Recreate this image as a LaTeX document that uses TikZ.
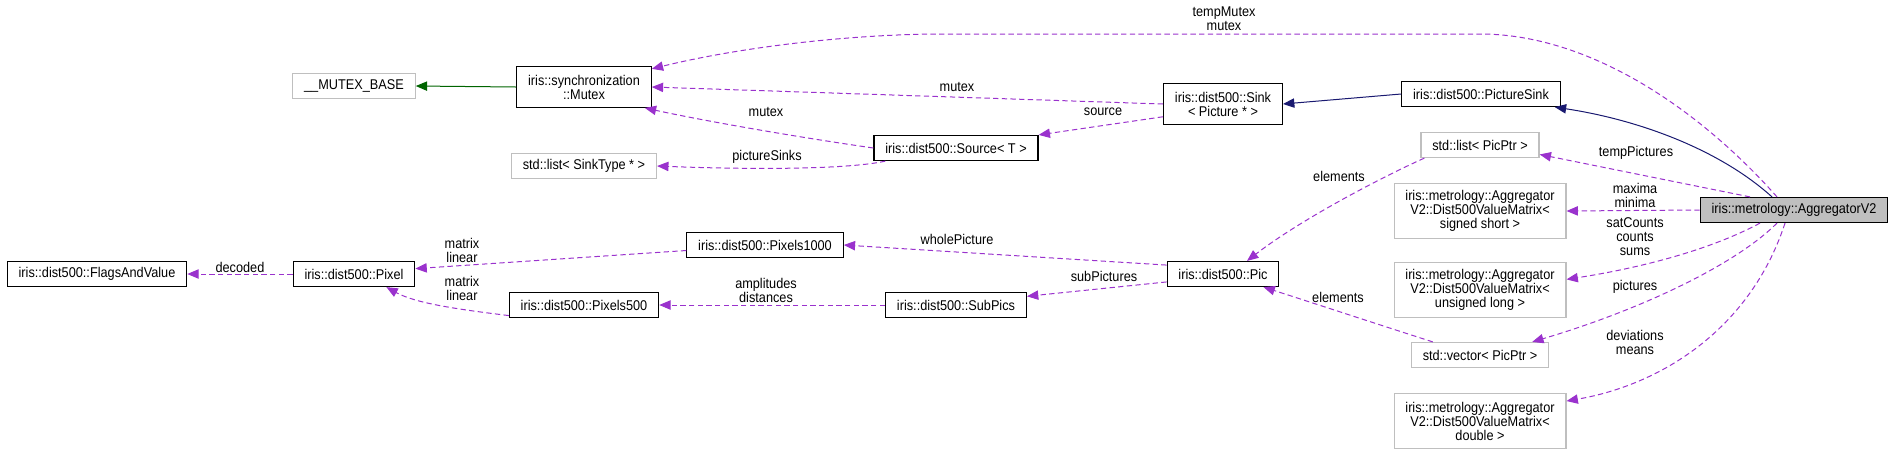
\documentclass[tikz,border=0pt]{standalone}
\usepackage{fontspec}
\setmainfont{Liberation Sans}[FakeStretch=0.9]
\usepackage{tikz}
\usetikzlibrary{calc}
\usetikzlibrary{arrows.meta}

\definecolor{edgepurple}{HTML}{9A32CD}
\definecolor{edgenavy}{HTML}{191970}
\definecolor{edgegreen}{HTML}{006400}
\definecolor{boxgray}{HTML}{BFBFBF}

\begin{document}
\begin{tikzpicture}[
      x=0.75pt, y=-0.75pt,
      every node/.style={font=\fontsize{10.6}{10.5}\selectfont},
      cls/.style={draw=black, line width=0.9pt, inner xsep=8.5pt, inner ysep=1pt, minimum height=18.75pt, align=center},
      ext/.style={cls, draw=boxgray},
      twoline/.style={minimum height=30.5pt},
      threeline/.style={minimum height=41pt},
      lbl/.style={align=center, inner sep=0pt},
      uses/.style={draw=edgepurple, dash pattern=on 4pt off 2.5pt, line width=0.75pt, -{Triangle[length=8.5pt,width=7pt]}},
      inherit/.style={draw=edgenavy, line width=0.75pt, -{Triangle[length=8.5pt,width=7pt]}},
      protinherit/.style={draw=edgegreen, line width=0.75pt, -{Triangle[length=8.5pt,width=7pt]}},
      ]

      \useasboundingbox (0,0) rectangle (1897,455);

      % classes
      \node[ext] (mbase) at (354,86) {\_\_MUTEX\_BASE};
      \node[cls, twoline] (mutex) at (584,87) {iris::synchronization\\::Mutex};
      \node[ext] (listsink) at (584,166) {std::list< SinkType * >};
      \node[cls] (flags) at (97,274) {iris::dist500::FlagsAndValue};
      \node[cls] (pixel) at (354,274) {iris::dist500::Pixel};
      \node[cls] (pix500) at (584,305) {iris::dist500::Pixels500};
      \node[cls] (pix1000) at (765,245) {iris::dist500::Pixels1000};
      \node[cls] (source) at (956,148) {iris::dist500::Source< T >};
      \node[cls] (subpics) at (956,305) {iris::dist500::SubPics};
      \node[cls, twoline] (sink) at (1223,104) {iris::dist500::Sink\\< Picture * >};
      \node[cls] (pic) at (1223,274) {iris::dist500::Pic};
      \node[cls] (psink) at (1481,94) {iris::dist500::PictureSink};
      \node[ext] (listpic) at (1480,145) {std::list< PicPtr >};
      \node[ext, threeline] (dvmshort) at (1480,211) {iris::metrology::Aggregator\\V2::Dist500ValueMatrix<\\signed short >};
      \node[ext, threeline] (dvmlong) at (1480,290) {iris::metrology::Aggregator\\V2::Dist500ValueMatrix<\\unsigned long >};
      \node[ext] (vecpic) at (1480,355) {std::vector< PicPtr >};
      \node[ext, threeline] (dvmdouble) at (1480,421) {iris::metrology::Aggregator\\V2::Dist500ValueMatrix<\\double >};
      \node[cls, fill=boxgray] (agg) at (1794,210) {iris::metrology::AggregatorV2};

      % inheritance
      \draw[protinherit] (mutex.west) -- (mbase.east);
      \draw[inherit] (psink.west) -- (sink.east);
      \draw[inherit] ($(agg.north)+(-22,0)$) .. controls (1720,150) and (1640,120) .. ($(psink.south east)+(-6,0)$);

      % usage
      \draw[uses] (sink.west) -- (mutex.east);
      \draw[uses] (source.west) .. controls (790,136) and (700,120) .. (mutex.-19);
      \draw[uses] ($(agg.north)+(-17,0)$) .. controls (1700,110) and (1590,34) .. (1480,34) -- (930,34) .. controls (820,36) and (720,52) .. (mutex.15);
      \draw[uses] (sink.192) -- (source.north east);
      \draw[uses] ($(source.south west)+(12,0)$) .. controls (850,169) and (760,170) .. (listsink.east);
      \draw[uses] ($(agg.north)+(-44,0)$) -- (listpic.-9);
      \draw[uses] ($(listpic.south west)+(4,0)$) .. controls (1380,178) and (1300,220) .. ($(pic.north)+(24,0)$);
      \draw[uses] ($(vecpic.north west)+(22,0)$) .. controls (1380,325) and (1310,302) .. ($(pic.south east)+(-16,0)$);
      \draw[uses] (agg.west) -- (dvmshort.east);
      \draw[uses] ($(agg.south)+(-34,0)$) .. controls (1710,250) and (1640,268) .. (dvmlong.7);
      \draw[uses] ($(agg.south)+(-17,0)$) .. controls (1735,265) and (1640,310) .. ($(vecpic.north east)+(-17,0)$);
      \draw[uses] ($(agg.south)+(-9,0)$) .. controls (1750,330) and (1660,385) .. (dvmdouble.13);
      \draw[uses] (pic.171) -- (pix1000.east);
      \draw[uses] (pic.188) -- (subpics.7);
      \draw[uses] (subpics.west) -- (pix500.east);
      \draw[uses] (pix1000.184) -- (pixel.5);
      \draw[uses] (pix500.188) .. controls (455,309) and (415,303) .. ($(pixel.south east)+(-29,0)$);
      \draw[uses] (pixel.west) -- (flags.east);

      % member names
      \node[lbl] (lmutexsink) at (957,87) {mutex};
      \node[lbl] (lmutexsrc) at (766,112) {mutex};
      \node[lbl] (lsource) at (1103,112) {source};
      \node[lbl] (ltempmutex) at (1224,19) {tempMutex\\mutex};
      \node[lbl] (lpicsinks) at (767,157) {pictureSinks};
      \node[lbl] (ltemppics) at (1636,153) {tempPictures};
      \node[lbl] (lelemlist) at (1339,176) {elements};
      \node[lbl] (lmaxmin) at (1635,195) {maxima\\minima};
      \node[lbl] (lcounts) at (1635,237) {satCounts\\counts\\sums};
      \node[lbl] (lpictures) at (1635,287) {pictures};
      \node[lbl] (ldevmeans) at (1635,342) {deviations\\means};
      \node[lbl] (lelemvec) at (1338,297) {elements};
      \node[lbl] (lwhole) at (957,239) {wholePicture};
      \node[lbl] (lsubpics) at (1104,276) {subPictures};
      \node[lbl] (lampdist) at (766,290) {amplitudes\\distances};
      \node[lbl] (ldecoded) at (240,267) {decoded};
      \node[lbl] (lmatrixk) at (462,250) {matrix\\linear};
      \node[lbl] (lmatrixh) at (462,288.5) {matrix\\linear};

\end{tikzpicture}
\end{document}
